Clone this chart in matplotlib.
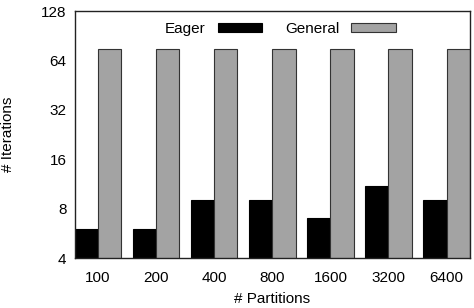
import numpy as np
import matplotlib.pyplot as plt

partitions = ['100', '200', '400', '800', '1600', '3200', '6400']
eager = [6, 6, 9, 9, 7, 11, 9]
general = [75, 75, 75, 75, 75, 75, 75]

plt.rcParams['font.family'] = ['Liberation Sans', 'DejaVu Sans']
plt.rcParams['font.size'] = 11

fig = plt.figure(figsize=(4.74, 3.08), dpi=100)
ax = fig.add_axes([0.158, 0.162, 0.833, 0.802])

x = np.arange(len(partitions))
w = 0.4
ax.bar(x - w / 2, eager, w, color='black', edgecolor='black', linewidth=0.8, label='Eager')
ax.bar(x + w / 2, general, w, color='#a3a3a3', edgecolor='#333333', linewidth=0.8, label='General')

ax.set_yscale('log', base=2)
ax.set_ylim(4, 128)
ax.set_yticks([4, 8, 16, 32, 64, 128])
ax.set_yticklabels(['4', '8', '16', '32', '64', '128'])
ax.minorticks_off()
ax.set_xlim(-w, len(partitions) - 1 + w)
ax.set_xticks(x)
ax.set_xticklabels(partitions)
ax.tick_params(axis='x', length=0, pad=9)
ax.tick_params(axis='y', length=0, pad=6)

for s in ax.spines.values():
    s.set_linewidth(1)
    s.set_color('#222222')

ax.set_xlabel('# Partitions', labelpad=5)
ax.set_ylabel('# Iterations', labelpad=19)

ax.legend(loc='upper center', ncol=2, frameon=False, markerfirst=False,
          handlelength=2.9, handleheight=0.5, columnspacing=1.5,
          handletextpad=0.8, borderaxespad=0.3, bbox_to_anchor=(0.52, 1.0))

plt.savefig('out.png', dpi=100)
plt.close()
